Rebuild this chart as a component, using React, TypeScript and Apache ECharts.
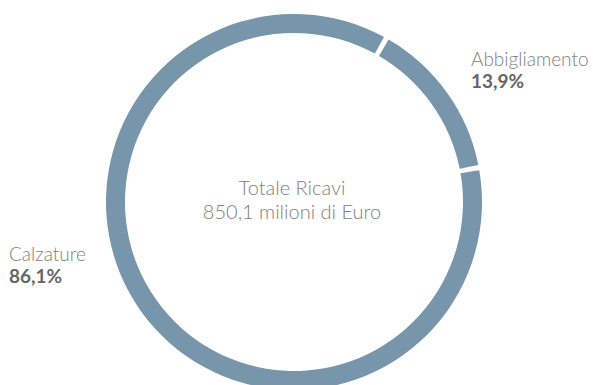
import React, { useEffect, useRef } from "react";
import * as echarts from "echarts";

const categories = ["Abbigliamento", "Calzature"];
const shares = [13.9, 86.1];
const centerLines = ["Totale Ricavi", "850,1 milioni di Euro"];

const ringColor = "#7796ab";
const lightText = "#808080";
const boldText = "#666666";

const fmt = (v: number) => v.toFixed(1).replace(".", ",") + "%";

export default function App() {
  const ref = useRef<HTMLDivElement>(null);
  useEffect(() => {
    document.body.style.margin = "0";
    const chart = echarts.init(ref.current!, null, { renderer: "svg" });
    const labelPos = [
      { x: 471, y: 58 },
      { x: 9, y: 253 },
    ];
    const labelTexts: any[] = [];
    categories.forEach((c, i) => {
      labelTexts.push({
        type: "text",
        x: labelPos[i].x,
        y: labelPos[i].y,
        style: {
          text: c,
          align: "left",
          verticalAlign: "middle",
          fontFamily: "Lato",
          fontWeight: 300,
          fontSize: 19,
          lineHeight: 19,
          fill: lightText,
        },
      });
      labelTexts.push({
        type: "text",
        x: labelPos[i].x,
        y: labelPos[i].y + 22,
        style: {
          text: fmt(shares[i]),
          align: "left",
          verticalAlign: "middle",
          fontFamily: "Lato",
          fontWeight: "bold",
          fontSize: 19,
          lineHeight: 19,
          fill: boldText,
        },
      });
    });
    chart.setOption({
      animation: false,
      backgroundColor: "#ffffff",
      series: [
        {
          type: "pie",
          center: [294, 202],
          radius: [169, 188],
          startAngle: 60.6,
          clockwise: true,
          padAngle: 1.6,
          silent: true,
          itemStyle: { color: ringColor },
          label: { show: false },
          labelLine: { show: false },
          data: categories.map((c, i) => ({ name: c, value: shares[i] })),
        },
      ],
      graphic: [
        ...labelTexts,
        {
          type: "text",
          x: 292,
          y: 199,
          style: {
            text: centerLines.join("\n"),
            align: "center",
            verticalAlign: "middle",
            fontFamily: "Lato",
            fontWeight: 300,
            fontSize: 20,
            lineHeight: 24,
            fill: lightText,
          },
        },
      ],
    });
    return () => chart.dispose();
  }, []);
  return <div ref={ref} style={{ width: 593, height: 385 }} />;
}
